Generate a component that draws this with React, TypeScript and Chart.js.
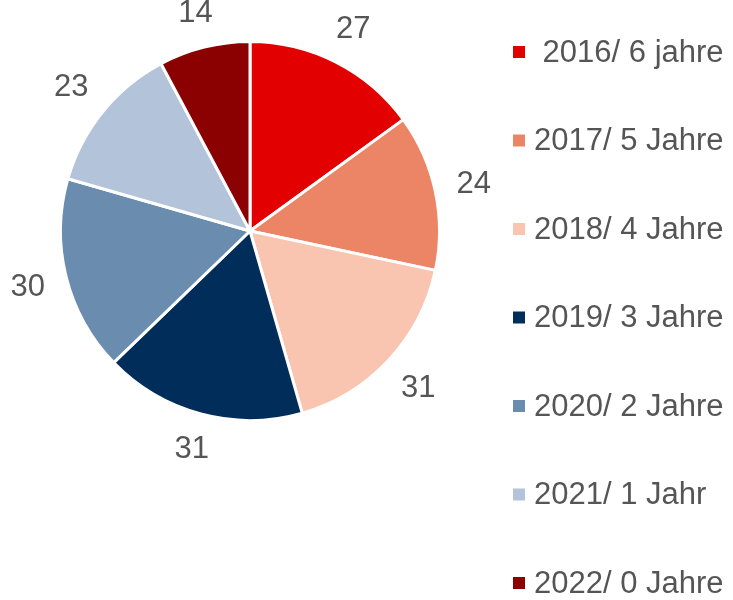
import React, { useEffect, useRef } from "react";
import { Chart, registerables } from "chart.js";

Chart.register(...registerables);

const categories = [" 2016/ 6 jahre", "2017/ 5 Jahre", "2018/ 4 Jahre", "2019/ 3 Jahre", "2020/ 2 Jahre", "2021/ 1 Jahr", "2022/ 0 Jahre"];
const values = [27, 24, 31, 31, 30, 23, 14];
const colors = ["#E30000", "#EC8466", "#F9C4B0", "#002D59", "#6A8CAF", "#B3C3DA", "#8B0000"];

const FONT = "31px 'Liberation Sans', Arial, sans-serif";
const TEXT = "#555555";

const overlay = {
  id: "overlay",
  afterDraw(chart: any) {
    const ctx = chart.ctx;
    const meta = chart.getDatasetMeta(0);
    ctx.save();
    ctx.font = FONT;
    ctx.fillStyle = TEXT;
    ctx.textAlign = "center";
    ctx.textBaseline = "middle";
    meta.data.forEach((arc: any, i: number) => {
      const mid = (arc.startAngle + arc.endAngle) / 2;
      const txt = String(values[i]);
      const hw = ctx.measureText(txt).width / 2;
      const hh = 11.5;
      const c = Math.cos(mid);
      const s = Math.sin(mid);
      const r = arc.outerRadius + 20 + Math.abs(c) * hw + Math.abs(s) * hh;
      const x = arc.x + c * r;
      const y = arc.y + s * r;
      ctx.fillText(txt, x, y + 1);
    });
    // legend
    const startY = 52;
    const step = 88.5;
    ctx.textAlign = "left";
    categories.forEach((cat, i) => {
      const cy = startY + i * step;
      ctx.fillStyle = colors[i];
      ctx.fillRect(513, cy - 6, 12, 12);
      ctx.fillStyle = TEXT;
      ctx.fillText(cat, 534, cy + 1);
    });
    ctx.restore();
  },
};

export default function App() {
  const ref = useRef<HTMLCanvasElement>(null);
  useEffect(() => {
    if (!ref.current) return;
    const chart = new Chart(ref.current, {
      type: "pie",
      data: {
        labels: categories,
        datasets: [
          {
            data: values,
            backgroundColor: colors,
            borderColor: "#FFFFFF",
            borderWidth: 3,
          },
        ],
      },
      options: {
        animation: false,
        responsive: false,
        layout: { padding: { left: 59, right: 292, top: 40, bottom: 178 } },
        plugins: { legend: { display: false }, tooltip: { enabled: false } },
      },
      plugins: [overlay],
    });
    return () => chart.destroy();
  }, []);
  return (
    <div style={{ position: "absolute", left: 0, top: 0, width: 733, height: 600, background: "#fff" }}>
      <canvas ref={ref} width={733} height={600} style={{ width: 733, height: 600 }} />
    </div>
  );
}
